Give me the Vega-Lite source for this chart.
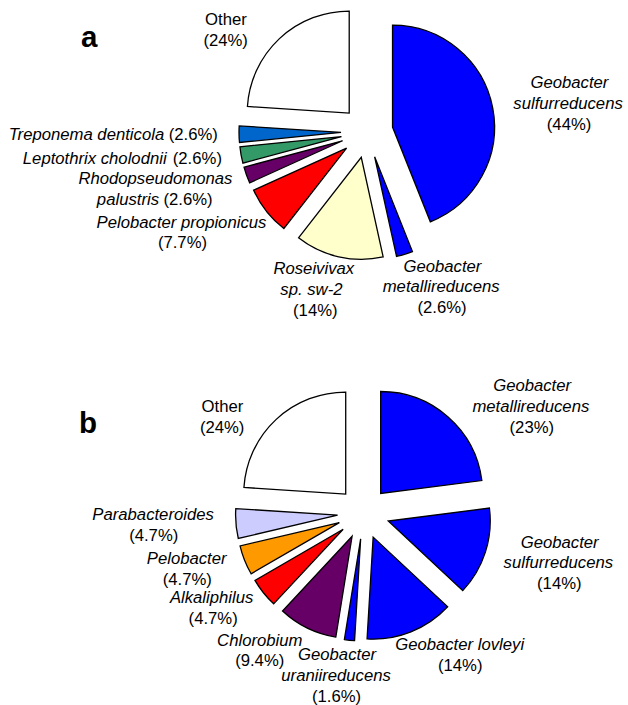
{
  "$schema": "https://vega.github.io/schema/vega-lite/v6.json",
  "padding": 0,
  "spacing": 0,
  "bounds": "flush",
  "background": "white",
  "config": {
    "view": {"stroke": null},
    "font": "Liberation Sans",
    "title": {"font": "Liberation Sans", "fontSize": 29.5, "fontWeight": "bold", "color": "black", "anchor": "start", "frame": "group", "baseline": "alphabetic", "offset": 0}
  },
  "resolve": {"scale": {"fill": "independent"}},
  "datasets": {
    "genomesA": [
      {"taxon": "Geobacter\nsulfurreducens", "share": 44, "sep": "\n"},
      {"taxon": "Geobacter\nmetallireducens", "share": 2.6, "sep": "\n"},
      {"taxon": "Roseivivax\nsp. sw-2", "share": 14, "sep": "\n"},
      {"taxon": "Pelobacter propionicus", "share": 7.7, "sep": "\n"},
      {"taxon": "Rhodopseudomonas\npalustris", "share": 2.6, "sep": " "},
      {"taxon": "Leptothrix cholodnii", "share": 2.6, "sep": " "},
      {"taxon": "Treponema denticola", "share": 2.6, "sep": " "},
      {"taxon": "Other", "share": 24, "sep": "\n"}
    ],
    "genomesB": [
      {"taxon": "Geobacter\nmetallireducens", "share": 23, "sep": "\n"},
      {"taxon": "Geobacter\nsulfurreducens", "share": 14, "sep": "\n"},
      {"taxon": "Geobacter lovleyi", "share": 14, "sep": "\n"},
      {"taxon": "Geobacter\nuraniireducens", "share": 1.6, "sep": "\n"},
      {"taxon": "Chlorobium", "share": 9.4, "sep": "\n"},
      {"taxon": "Alkaliphilus", "share": 4.7, "sep": "\n"},
      {"taxon": "Pelobacter", "share": 4.7, "sep": "\n"},
      {"taxon": "Parabacteroides", "share": 4.7, "sep": "\n"},
      {"taxon": "Other", "share": 24, "sep": "\n"}
    ]
  },
  "vconcat": [
    {
      "width": 628,
      "height": 352,
      "data": {"name": "genomesA"},
      "title": {"text": "a", "dx": 81, "dy": 57},
      "transform": [
        {"window": [{"op": "sum", "field": "share", "as": "cum"}], "frame": [null, 0]},
        {"joinaggregate": [{"op": "sum", "field": "share", "as": "total"}]},
        {"calculate": "(datum.cum - datum.share) / datum.total", "as": "f0"},
        {"calculate": "datum.cum / datum.total", "as": "f1"},
        {"calculate": "PI * (datum.f0 + datum.f1)", "as": "mid"},
        {"calculate": "26 * sin(datum.mid)", "as": "ox"},
        {"calculate": "-26 * cos(datum.mid)", "as": "oy"}
      ],
      "layer": [
        {
          "mark": {"type": "arc", "outerRadius": 102, "stroke": "black", "strokeWidth": 1.3},
          "encoding": {
            "x": {"field": "ox", "type": "quantitative", "scale": {"domain": [-367, 261], "nice": false, "zero": false}, "axis": null},
            "y": {"field": "oy", "type": "quantitative", "scale": {"domain": [-132, 220], "nice": false, "zero": false, "reverse": true}, "axis": null},
            "theta": {"field": "f0", "type": "quantitative", "scale": {"domain": [0, 1]}, "stack": null},
            "theta2": {"field": "f1"},
            "fill": {
              "field": "taxon", "type": "nominal", "legend": null,
              "scale": {
                "domain": ["Geobacter\nsulfurreducens", "Geobacter\nmetallireducens", "Roseivivax\nsp. sw-2", "Pelobacter propionicus", "Rhodopseudomonas\npalustris", "Leptothrix cholodnii", "Treponema denticola", "Other"],
                "range": ["#0000FF", "#0000FF", "#FFFFCC", "#FF0000", "#660066", "#339966", "#0066CC", "#FFFFFF"]
              }
            }
          }
        },
        {
          "transform": [
            {"calculate": "'(' + datum.share + '%)'", "as": "pct"},
            {"calculate": "split(datum.taxon + datum.sep + datum.pct, '\\n')", "as": "lines"},
            {"flatten": ["lines"], "as": ["line"]},
            {"window": [{"op": "row_number", "as": "li"}], "groupby": ["taxon"]},
            {"joinaggregate": [{"op": "count", "as": "nl"}], "groupby": ["taxon"]},
            {"calculate": "datum.taxon == 'Other' ? '' : (indexof(datum.line, datum.pct) < 0 ? datum.line : trim(substring(datum.line, 0, indexof(datum.line, datum.pct))))", "as": "ital"},
            {"calculate": "datum.taxon == 'Other' ? datum.line : (indexof(datum.line, datum.pct) < 0 ? '' : datum.pct)", "as": "norm"},
            {"calculate": "16.7 * (0.54 * length(datum.ital) - 0.3 * length(replace(datum.ital, regexp('[^ilj]', 'g'), '')) - 0.25 * length(replace(datum.ital, regexp('[^ft .]', 'g'), '')) - 0.2 * length(replace(datum.ital, regexp('[^r()]', 'g'), '')) + 0.3 * length(replace(datum.ital, regexp('[^mw%]', 'g'), '')) + 0.15 * length(replace(datum.ital, regexp('[^A-Z]', 'g'), '')))", "as": "wI"},
            {"calculate": "16.7 * (0.54 * length(datum.norm) - 0.3 * length(replace(datum.norm, regexp('[^ilj]', 'g'), '')) - 0.25 * length(replace(datum.norm, regexp('[^ft .]', 'g'), '')) - 0.2 * length(replace(datum.norm, regexp('[^r()]', 'g'), '')) + 0.3 * length(replace(datum.norm, regexp('[^mw%]', 'g'), '')) + 0.15 * length(replace(datum.norm, regexp('[^A-Z]', 'g'), '')))", "as": "wN"},
            {"calculate": "datum.wI + datum.wN + (datum.wI > 0 && datum.wN > 0 ? 3 : 0)", "as": "lw"},
            {"joinaggregate": [{"op": "max", "field": "lw", "as": "bw"}], "groupby": ["taxon"]},
            {"calculate": "(150 + 45 * clamp((abs(cos(datum.mid)) - 0.65) / 0.1, 0, 1) + datum.bw / 2) * sin(datum.mid)", "as": "bx"},
            {"calculate": "cos(datum.mid) > 0 ? -(118 + datum.nl * 20.7 / 2) * cos(datum.mid) : -130 * cos(datum.mid) + datum.nl * 20.7 / 2 * clamp(-2 * cos(datum.mid), 0, 1)", "as": "by"},
            {"calculate": "datum.by - datum.nl * 20.7 / 2 + (datum.li - 0.5) * 20.7", "as": "ly"},
            {"calculate": "datum.bx - datum.lw / 2", "as": "xi"},
            {"calculate": "datum.xi + (datum.wI > 0 ? datum.wI + 3 : 0)", "as": "xn"}
          ],
          "layer": [
            {
              "mark": {"type": "text", "align": "left", "baseline": "middle", "fontStyle": "italic", "fontSize": 16.7, "font": "Liberation Sans", "color": "black"},
              "encoding": {
                "x": {"field": "xi", "type": "quantitative", "scale": {"domain": [-367, 261], "nice": false, "zero": false}, "axis": null},
                "y": {"field": "ly", "type": "quantitative", "scale": {"domain": [-132, 220], "nice": false, "zero": false, "reverse": true}, "axis": null},
                "text": {"field": "ital"}
              }
            },
            {
              "mark": {"type": "text", "align": "left", "baseline": "middle", "fontSize": 16.7, "font": "Liberation Sans", "color": "black"},
              "encoding": {
                "x": {"field": "xn", "type": "quantitative", "scale": {"domain": [-367, 261], "nice": false, "zero": false}, "axis": null},
                "y": {"field": "ly", "type": "quantitative", "scale": {"domain": [-132, 220], "nice": false, "zero": false, "reverse": true}, "axis": null},
                "text": {"field": "norm"}
              }
            }
          ]
        }
      ]
    },
    {
      "width": 628,
      "height": 353,
      "data": {"name": "genomesB"},
      "title": {"text": "b", "dx": 79, "dy": 91},
      "transform": [
        {"window": [{"op": "sum", "field": "share", "as": "cum"}], "frame": [null, 0]},
        {"joinaggregate": [{"op": "sum", "field": "share", "as": "total"}]},
        {"calculate": "(datum.cum - datum.share) / datum.total", "as": "f0"},
        {"calculate": "datum.cum / datum.total", "as": "f1"},
        {"calculate": "PI * (datum.f0 + datum.f1)", "as": "mid"},
        {"calculate": "26 * sin(datum.mid)", "as": "ox"},
        {"calculate": "-26 * cos(datum.mid)", "as": "oy"}
      ],
      "layer": [
        {
          "mark": {"type": "arc", "outerRadius": 102, "stroke": "black", "strokeWidth": 1.3},
          "encoding": {
            "x": {"field": "ox", "type": "quantitative", "scale": {"domain": [-363.5, 264.5], "nice": false, "zero": false}, "axis": null},
            "y": {"field": "oy", "type": "quantitative", "scale": {"domain": [-161, 192], "nice": false, "zero": false, "reverse": true}, "axis": null},
            "theta": {"field": "f0", "type": "quantitative", "scale": {"domain": [0, 1]}, "stack": null},
            "theta2": {"field": "f1"},
            "fill": {
              "field": "taxon", "type": "nominal", "legend": null,
              "scale": {
                "domain": ["Geobacter\nmetallireducens", "Geobacter\nsulfurreducens", "Geobacter lovleyi", "Geobacter\nuraniireducens", "Chlorobium", "Alkaliphilus", "Pelobacter", "Parabacteroides", "Other"],
                "range": ["#0000FF", "#0000FF", "#0000FF", "#0000FF", "#660066", "#FF0000", "#FF9900", "#CCCCFF", "#FFFFFF"]
              }
            }
          }
        },
        {
          "transform": [
            {"calculate": "'(' + datum.share + '%)'", "as": "pct"},
            {"calculate": "split(datum.taxon + datum.sep + datum.pct, '\\n')", "as": "lines"},
            {"flatten": ["lines"], "as": ["line"]},
            {"window": [{"op": "row_number", "as": "li"}], "groupby": ["taxon"]},
            {"joinaggregate": [{"op": "count", "as": "nl"}], "groupby": ["taxon"]},
            {"calculate": "datum.taxon == 'Other' ? '' : (indexof(datum.line, datum.pct) < 0 ? datum.line : trim(substring(datum.line, 0, indexof(datum.line, datum.pct))))", "as": "ital"},
            {"calculate": "datum.taxon == 'Other' ? datum.line : (indexof(datum.line, datum.pct) < 0 ? '' : datum.pct)", "as": "norm"},
            {"calculate": "16.7 * (0.54 * length(datum.ital) - 0.3 * length(replace(datum.ital, regexp('[^ilj]', 'g'), '')) - 0.25 * length(replace(datum.ital, regexp('[^ft .]', 'g'), '')) - 0.2 * length(replace(datum.ital, regexp('[^r()]', 'g'), '')) + 0.3 * length(replace(datum.ital, regexp('[^mw%]', 'g'), '')) + 0.15 * length(replace(datum.ital, regexp('[^A-Z]', 'g'), '')))", "as": "wI"},
            {"calculate": "16.7 * (0.54 * length(datum.norm) - 0.3 * length(replace(datum.norm, regexp('[^ilj]', 'g'), '')) - 0.25 * length(replace(datum.norm, regexp('[^ft .]', 'g'), '')) - 0.2 * length(replace(datum.norm, regexp('[^r()]', 'g'), '')) + 0.3 * length(replace(datum.norm, regexp('[^mw%]', 'g'), '')) + 0.15 * length(replace(datum.norm, regexp('[^A-Z]', 'g'), '')))", "as": "wN"},
            {"calculate": "datum.wI + datum.wN + (datum.wI > 0 && datum.wN > 0 ? 3 : 0)", "as": "lw"},
            {"joinaggregate": [{"op": "max", "field": "lw", "as": "bw"}], "groupby": ["taxon"]},
            {"calculate": "(150 + 45 * clamp((abs(cos(datum.mid)) - 0.65) / 0.1, 0, 1) + datum.bw / 2) * sin(datum.mid)", "as": "bx"},
            {"calculate": "-((cos(datum.mid) > 0 ? 110 : 133) + datum.nl * 20.7 / 2) * cos(datum.mid)", "as": "by"},
            {"calculate": "datum.by - datum.nl * 20.7 / 2 + (datum.li - 0.5) * 20.7", "as": "ly"},
            {"calculate": "datum.bx - datum.lw / 2", "as": "xi"},
            {"calculate": "datum.xi + (datum.wI > 0 ? datum.wI + 3 : 0)", "as": "xn"}
          ],
          "layer": [
            {
              "mark": {"type": "text", "align": "left", "baseline": "middle", "fontStyle": "italic", "fontSize": 16.7, "font": "Liberation Sans", "color": "black"},
              "encoding": {
                "x": {"field": "xi", "type": "quantitative", "scale": {"domain": [-363.5, 264.5], "nice": false, "zero": false}, "axis": null},
                "y": {"field": "ly", "type": "quantitative", "scale": {"domain": [-161, 192], "nice": false, "zero": false, "reverse": true}, "axis": null},
                "text": {"field": "ital"}
              }
            },
            {
              "mark": {"type": "text", "align": "left", "baseline": "middle", "fontSize": 16.7, "font": "Liberation Sans", "color": "black"},
              "encoding": {
                "x": {"field": "xn", "type": "quantitative", "scale": {"domain": [-363.5, 264.5], "nice": false, "zero": false}, "axis": null},
                "y": {"field": "ly", "type": "quantitative", "scale": {"domain": [-161, 192], "nice": false, "zero": false, "reverse": true}, "axis": null},
                "text": {"field": "norm"}
              }
            }
          ]
        }
      ]
    }
  ]
}
